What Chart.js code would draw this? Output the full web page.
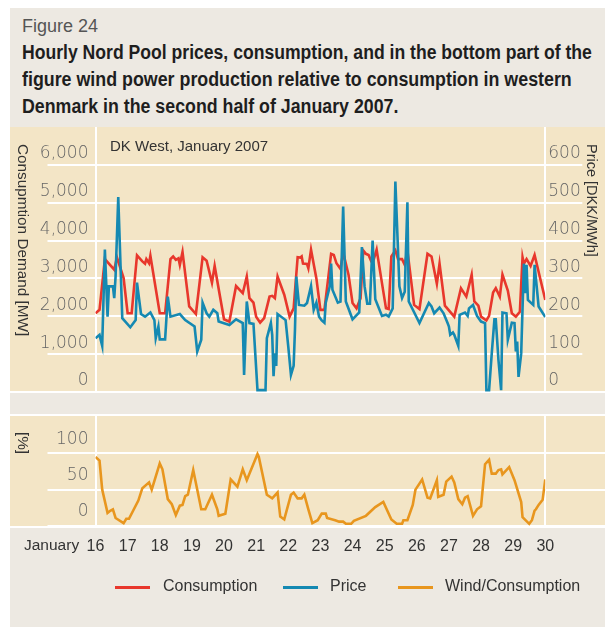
<!DOCTYPE html>
<html>
<head>
<meta charset="utf-8">
<script src="https://cdn.jsdelivr.net/npm/chart.js@4.4.1/dist/chart.umd.min.js"></script>
<style>
  body { margin: 0; width: 605px; height: 628px; position: relative; overflow: hidden; background: #fff;
         font-family: "Liberation Sans", Arial, sans-serif; color: #222; }
  .abs { position: absolute; }
  #frame { left: 10px; top: 8px; width: 595px; height: 619px; background: #ede9e2; }
  #fig { left: 22px; top: 16px; font-size: 18px; color: #555; }
  .tl { left: 22px; font-family: "Liberation Sans", Arial, sans-serif; font-weight: bold; font-size: 20px;
        white-space: nowrap; color: #1e1e1e; transform-origin: 0 50%; }
  #panelTop { left: 10px; top: 127px; width: 595px; height: 264px; background: #f3e5c6; border-bottom: 2px solid #fff; }
  #panelBottom { left: 10px; top: 414px; width: 595px; height: 110px; background: #f3e5c6;
                 border-top: 2px solid #fff; border-bottom: 2px solid #fff; }
  canvas { position: absolute; }
  .vt { writing-mode: vertical-rl; font-size: 15.3px; color: #333; white-space: nowrap; }
  #dk { left: 110px; top: 137px; font-size: 15px; color: #333; }
  #jan { left: 24px; top: 536px; font-size: 15.5px; color: #333; }
  .lg { top: 586px; height: 3px; width: 35px; }
  .lt { top: 577px; font-size: 16px; color: #333; }
</style>
</head>
<body>
<div id="frame" class="abs"></div>
<div id="fig" class="abs">Figure 24</div>
<div class="abs tl" style="top:41px" data-w="570">Hourly Nord Pool prices, consumption, and in the bottom part of the</div>
<div class="abs tl" style="top:68px" data-w="550">figure wind power production relative to consumption in western</div>
<div class="abs tl" style="top:95px" data-w="376">Denmark in the second half of January 2007.</div>
<div id="panelTop" class="abs"></div>
<div id="panelBottom" class="abs"></div>
<canvas id="topChart" width="595" height="267" style="left:10px;top:127px;width:595px;height:267px"></canvas>
<canvas id="bottomChart" width="595" height="146" style="left:10px;top:415px;width:595px;height:146px"></canvas>
<div id="dk" class="abs">DK West, January 2007</div>
<div class="abs vt" style="left:14px;top:144px">Consupmtion Demand [MW]</div>
<div class="abs vt" style="left:584px;top:144px;font-size:14.5px">Price [DKK/MWh]</div>
<div class="abs vt" style="left:14px;top:432px">[%]</div>
<div id="jan" class="abs">January</div>
<div class="abs lg" style="left:115px;background:#e8372c"></div>
<div class="abs lt" style="left:163px">Consumption</div>
<div class="abs lg" style="left:283px;background:#1589b2"></div>
<div class="abs lt" style="left:330px">Price</div>
<div class="abs lg" style="left:398px;background:#e8961e"></div>
<div class="abs lt" style="left:445px">Wind/Consumption</div>
<script>
// fit the bold title lines to the widths of the original
document.querySelectorAll('.tl').forEach(el => {
    el.style.transform = 'scaleX(' + (Number(el.dataset.w) / el.offsetWidth) + ')';
});

// hours counted from 16 January 00:00
const consHours = [0, 3, 7, 14, 16, 21, 24, 27, 31, 35, 37, 38, 40, 41, 48, 52, 56, 58, 60, 62, 63, 65, 70, 75, 80, 83,
  87, 89, 96, 100, 105, 110, 113, 115, 118, 120, 123, 126, 130, 132, 134, 136, 141, 145, 148, 151, 153, 154, 155, 158,
  159, 161, 165, 168, 171, 176, 178, 180, 183, 185, 189, 192, 195, 198, 200, 202, 204, 206, 207, 210, 217, 219, 221,
  224, 226, 229, 231, 233, 238, 242, 248, 251, 255, 257, 261, 268, 273, 277, 281, 283, 286, 288, 292, 294, 297, 299,
  302, 304, 308, 311, 314, 317, 319, 320, 322, 325, 328, 336];
const consMW = [2080, 2170, 3510, 3230, 3560, 3010, 2080, 2080, 3610, 3450, 3390, 3510, 3400, 3600, 2080, 2080, 3510,
  3580, 3490, 3530, 3360, 3700, 2260, 2060, 3560, 3470, 2890, 3330, 1920, 1860, 2800, 2610, 3050, 2480, 2360, 1990,
  1830, 1950, 2520, 2540, 2480, 3050, 2570, 1990, 2210, 3560, 3550, 3580, 3390, 3380, 3270, 3760, 3000, 2170, 2170,
  3650, 3620, 3400, 3250, 3690, 3100, 2350, 2210, 2480, 3740, 3650, 3620, 3450, 3400, 3760, 2210, 2190, 3580, 3740,
  3510, 3510, 3360, 3740, 2300, 2190, 3650, 3580, 2860, 3390, 2280, 1990, 2740, 2520, 3100, 2390, 2280, 1990, 1890,
  2010, 2630, 2740, 2520, 3100, 2680, 2080, 1990, 2120, 3560, 3390, 3510, 3330, 3620, 2430];

const priceHours = [0, 3, 5, 7, 9, 10, 13, 14, 15, 17, 20, 26, 30, 31, 34, 37, 41, 44, 45, 47, 48, 52, 54, 56, 63, 67,
  74, 76, 79, 80, 83, 85, 88, 91, 92, 100, 105, 110, 111, 113, 115, 118, 121, 127, 128, 131, 132, 133, 134, 135, 136,
  142, 144, 146, 148, 149, 150, 152, 156, 158, 161, 163, 165, 167, 169, 171, 172, 175, 176, 177, 181, 183, 185, 187,
  192, 197, 199, 201, 203, 205, 207, 209, 214, 217, 219, 222, 224, 227, 229, 231, 233, 234, 242, 249, 251, 253, 257,
  260, 263, 264, 265, 267, 268, 271, 272, 276, 278, 279, 282, 285, 288, 291, 292, 294, 296, 298, 299, 301, 303, 304,
  307, 308, 311, 313, 314, 315, 316, 318, 320, 321, 322, 323, 327, 328, 331, 336];
const priceDKK = [142, 151, 122, 376, 199, 279, 279, 248, 305, 515, 195, 171, 190, 289, 206, 199, 210, 190, 142, 173,
  139, 139, 252, 199, 206, 190, 173, 107, 138, 236, 208, 199, 217, 208, 186, 177, 192, 182, 45, 239, 182, 180, 5, 5,
  142, 182, 151, 42, 102, 69, 206, 190, 120, 45, 69, 164, 305, 230, 228, 235, 280, 217, 236, 199, 189, 183, 236, 279,
  339, 270, 236, 239, 490, 239, 192, 210, 383, 279, 233, 233, 400, 245, 201, 204, 199, 221, 556, 279, 248, 265, 501,
  239, 182, 235, 226, 208, 223, 208, 182, 173, 151, 157, 151, 122, 204, 210, 201, 221, 230, 201, 186, 182, 5, 5, 102,
  192, 192, 85, 5, 210, 208, 138, 183, 182, 107, 133, 40, 102, 339, 261, 336, 243, 230, 336, 226, 198];

const windHours = [0, 3, 5, 9, 11, 13, 15, 21, 23, 25, 32, 35, 40, 42, 48, 50, 54, 57, 60, 63, 65, 67, 69, 73, 79, 82,
  87, 91, 92, 97, 101, 106, 110, 113, 121, 122, 128, 132, 136, 138, 141, 146, 148, 151, 154, 156, 159, 162, 166, 169,
  172, 173, 179, 182, 185, 187, 191, 193, 202, 209, 215, 221, 225, 229, 230, 233, 237, 239, 244, 248, 250, 255, 256,
  260, 262, 266, 268, 271, 274, 276, 278, 282, 285, 288, 291, 294, 296, 299, 301, 303, 304, 309, 313, 318, 319, 324,
  326, 328, 329, 331, 334, 336];
const windPct = [95, 90, 50, 18, 21, 23, 11, 4, 10, 10, 35, 52, 60, 50, 86, 78, 37, 30, 15, 28, 29, 41, 43, 77, 23, 23,
  43, 23, 14, 17, 64, 54, 78, 63, 99, 95, 43, 38, 46, 13, 9, 43, 46, 38, 38, 43, 23, 4, 8, 17, 17, 11, 8, 6, 6, 3, 3, 7,
  14, 26, 33, 9, 3, 3, 8, 8, 29, 50, 64, 39, 38, 63, 40, 43, 61, 68, 60, 37, 30, 39, 41, 14, 23, 27, 85, 91, 72, 72, 77,
  78, 71, 81, 63, 33, 12, 3, 8, 21, 23, 29, 36, 64];

const consTicks = [0, 1000, 2000, 3000, 4000, 5000, 6000];
const priceTicks = [0, 100, 200, 300, 400, 500, 600];
const windTicks = [0, 50, 100];
const dayTicks = [0, 24, 48, 72, 96, 120, 144, 168, 192, 216, 240, 264, 288, 312, 336];
const firstDay = 16;

function pairs(xs, ys) {
    return xs.map((x, i) => ({ x: x, y: ys[i] }));
}

const tickFont = { family: 'DejaVu Sans', size: 17, weight: '200' };

new Chart(document.getElementById('topChart'), {
    type: 'line',
    data: {
        datasets: [{
            label: 'Consumption',
            data: pairs(consHours, consMW),
            borderColor: '#e8372c',
            borderWidth: 2.6,
            pointRadius: 0,
            yAxisID: 'y',
            order: 1
        }, {
            label: 'Price',
            data: pairs(priceHours, priceDKK),
            borderColor: '#1589b2',
            borderWidth: 2.6,
            pointRadius: 0,
            yAxisID: 'price',
            order: 0
        }]
    },
    options: {
        responsive: false,
        animation: false,
        devicePixelRatio: 1,
        layout: { padding: { bottom: 2 } },
        plugins: { legend: { display: false }, tooltip: { enabled: false } },
        scales: {
            x: { type: 'linear', min: 0, max: 336, display: false },
            y: {
                position: 'left', min: 0, max: 7000,
                afterBuildTicks: axis => { axis.ticks = consTicks.map(v => ({ value: v })); },
                afterFit: axis => { axis.width = 85.5; axis.paddingTop = 0; axis.paddingBottom = 0; },
                grid: { color: '#fff', lineWidth: 2, tickLength: 48 },
                border: { color: '#fff', width: 2 },
                ticks: { padding: -41, labelOffset: -11, color: '#666', font: tickFont,
                         callback: v => v.toLocaleString('en-US') }
            },
            price: {
                position: 'right', min: 0, max: 700,
                afterBuildTicks: axis => { axis.ticks = priceTicks.map(v => ({ value: v })); },
                afterFit: axis => { axis.width = 59.7; axis.paddingTop = 0; axis.paddingBottom = 0; },
                grid: { color: '#fff', lineWidth: 2, tickLength: 37, drawOnChartArea: false },
                border: { color: '#fff', width: 2 },
                ticks: { padding: -34, labelOffset: -11, color: '#666', font: tickFont }
            }
        }
    }
});

new Chart(document.getElementById('bottomChart'), {
    type: 'line',
    data: {
        datasets: [{
            label: 'Wind/Consumption',
            data: pairs(windHours, windPct),
            borderColor: '#e8961e',
            borderWidth: 2.6,
            pointRadius: 0,
            yAxisID: 'y'
        }]
    },
    options: {
        responsive: false,
        animation: false,
        devicePixelRatio: 1,
        plugins: { legend: { display: false }, tooltip: { enabled: false } },
        scales: {
            x: {
                type: 'linear', min: 0, max: 336,
                afterBuildTicks: axis => { axis.ticks = dayTicks.map(v => ({ value: v })); },
                afterFit: axis => { axis.height = 35; },
                grid: { display: false },
                border: { display: false },
                ticks: { padding: 3, maxRotation: 0, autoSkip: false, color: '#333',
                         font: { family: 'Liberation Sans', size: 16 },
                         callback: v => String(firstDay + v / 24) }
            },
            y: {
                position: 'left', min: 0, max: 152.7,
                afterBuildTicks: axis => { axis.ticks = windTicks.map(v => ({ value: v })); },
                afterFit: axis => { axis.width = 85.5; axis.paddingTop = 0; axis.paddingBottom = 0; },
                grid: { color: '#fff', lineWidth: 2, tickLength: 48 },
                border: { color: '#fff', width: 2 },
                ticks: { padding: -41, labelOffset: -14, color: '#666', font: tickFont }
            },
            windRight: {
                position: 'right', min: 0, max: 152.7,
                afterBuildTicks: axis => { axis.ticks = windTicks.map(v => ({ value: v })); },
                afterFit: axis => { axis.width = 59.7; axis.paddingTop = 0; axis.paddingBottom = 0; },
                grid: { color: '#fff', lineWidth: 2, tickLength: 60, drawOnChartArea: false },
                border: { color: '#fff', width: 2 },
                ticks: { display: false }
            }
        }
    }
});
</script>
</body>
</html>
